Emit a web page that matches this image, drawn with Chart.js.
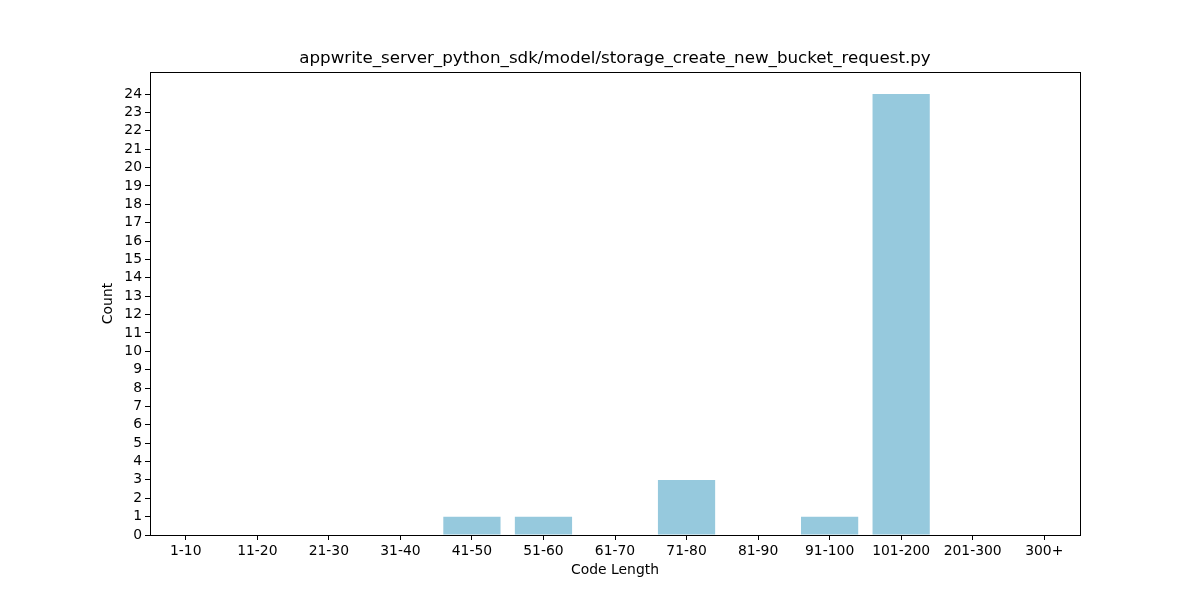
<!DOCTYPE html>
<html>
<head>
<meta charset="utf-8">
<script src="https://cdn.jsdelivr.net/npm/chart.js@4"></script>
<style>
  html, body { margin: 0; padding: 0; background: #fff; }
  #wrap { width: 1200px; height: 600px; }
</style>
</head>
<body>
<div id="wrap"><canvas id="myChart" width="1200" height="600"></canvas></div>
<script>
// chart values
var lengthBins = ["1-10", "11-20", "21-30", "31-40", "41-50", "51-60", "61-70",
                  "71-80", "81-90", "91-100", "101-200", "201-300", "300+"];
var counts = [0, 0, 0, 0, 1, 1, 0, 3, 0, 1, 24, 0, 0];
var yTickMax = 24;
var titleText = 'appwrite_server_python_sdk/model/storage_create_new_bucket_request.py';

var font = { family: "'DejaVu Sans', sans-serif", size: 13.9 };

// matplotlib style box round the plot area, title centred over the axes
var frame = {
  id: 'frame',
  afterDraw: function(chart) {
    var a = chart.chartArea, c = chart.ctx;
    c.save();
    c.strokeStyle = '#000';
    c.lineWidth = 1;
    c.strokeRect(Math.round(a.left) + 0.5, Math.round(a.top) + 0.5,
                 Math.round(a.right) - Math.round(a.left), Math.round(a.bottom) - Math.round(a.top));
    c.fillStyle = '#000';
    c.font = "16.7px 'DejaVu Sans', sans-serif";
    c.textAlign = 'center';
    c.textBaseline = 'middle';
    c.fillText(titleText, (a.left + a.right) / 2, a.top - 13);
    c.restore();
  }
};

var ctx = document.getElementById('myChart').getContext('2d');
var chart = new Chart(ctx, {
  type: 'bar',
  data: {
    labels: lengthBins,
    datasets: [{
      data: counts,
      backgroundColor: '#96c9dd',
      borderWidth: 0,
      barPercentage: 0.8,
      categoryPercentage: 1.0
    }]
  },
  options: {
    responsive: false,
    animation: false,
    layout: { padding: { left: 96, right: 120, top: 72, bottom: 17 } },
    plugins: {
      legend: { display: false },
      tooltip: { enabled: false },
      title: { display: false }
    },
    scales: {
      x: {
        grid: { display: true, offset: false, drawOnChartArea: false, drawTicks: true, tickLength: 5, color: '#000' },
        border: { display: true, color: '#000' },
        ticks: { color: '#000', font: font, padding: 3, maxRotation: 0, autoSkip: false },
        title: { display: true, text: 'Code Length', color: '#000', font: font, padding: { top: 0, bottom: 4 } },
        afterFit: function(s) { s.height = 48; }
      },
      y: {
        min: 0,
        max: 25.2,
        grid: { display: true, drawOnChartArea: false, drawTicks: true, tickLength: 5, color: '#000' },
        border: { display: true, color: '#000' },
        ticks: { stepSize: 1, color: '#000', font: font, padding: 3, autoSkip: false, includeBounds: false },
        afterBuildTicks: function(s) {
          s.ticks = s.ticks.filter(function(t) { return t.value <= yTickMax; });
        },
        title: { display: true, text: 'Count', color: '#000', font: font, padding: { top: 4, bottom: 0 } },
        afterFit: function(s) { s.width = 54; }
      }
    }
  },
  plugins: [frame]
});
</script>
</body>
</html>
